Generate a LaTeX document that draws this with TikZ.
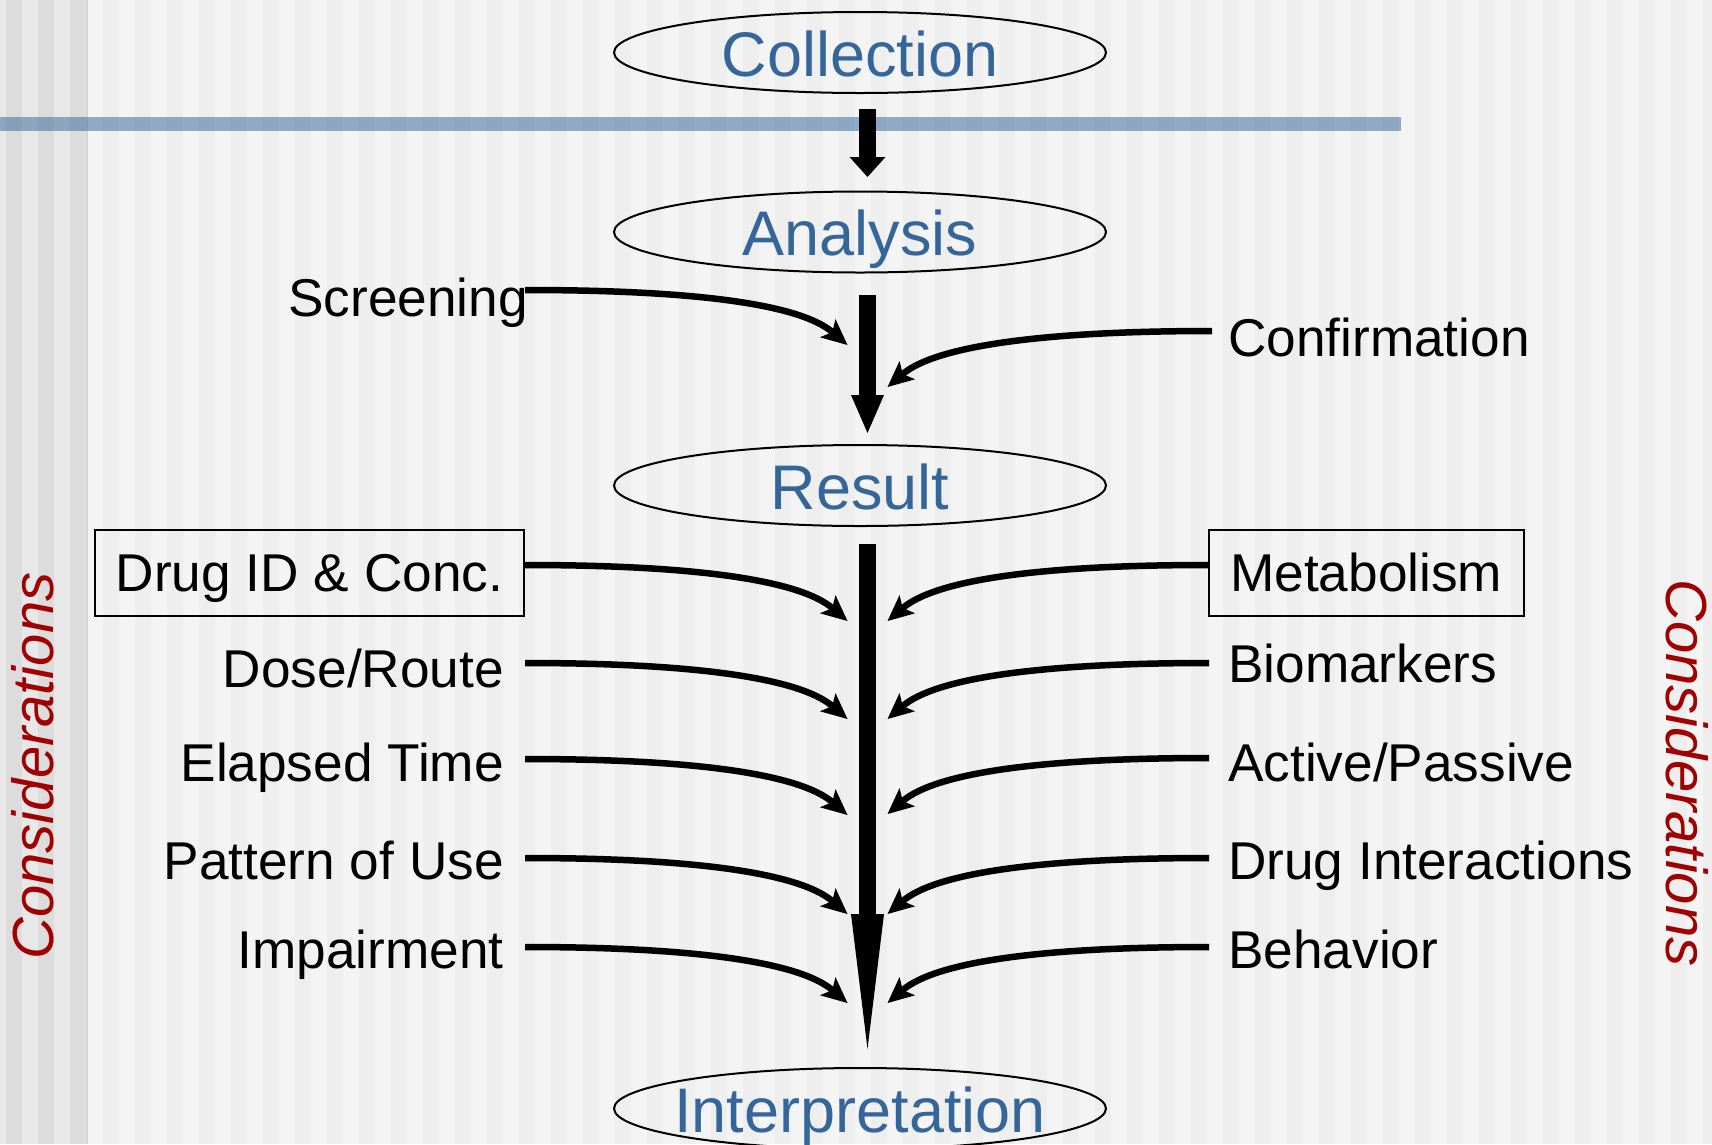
\documentclass[tikz,border=0pt]{standalone}
\usepackage{fontspec}
\setmainfont{Liberation Sans}
\usetikzlibrary{shapes.geometric,arrows.meta,calc}
\definecolor{bgA}{HTML}{F4F4F4}
\definecolor{bgB}{HTML}{EEEEEE}
\definecolor{lsA}{HTML}{E8E8E8}
\definecolor{lsB}{HTML}{DCDCDC}
\definecolor{headblue}{RGB}{52,102,153}
\definecolor{barblue}{RGB}{63,110,159}
\definecolor{consred}{RGB}{160,0,0}
\begin{document}
\begin{tikzpicture}[x=1pt,y=-1pt,
  stage/.style={ellipse, draw, line width=2pt, minimum width=492pt, minimum height=81pt, inner sep=0pt},
  headlbl/.style={text=headblue, font=\fontsize{63}{70}\selectfont, text height=47pt, text depth=0pt, inner sep=0pt},
  item/.style={font=\fontsize{53.2}{60}\selectfont, inner sep=0pt},
  itembox/.style={item, draw, line width=2pt, minimum height=86pt, text height=36pt, text depth=0pt},
  feed/.style={line width=6.5pt, -{Stealth[length=26pt,width=24pt,inset=6pt,line width=0pt]}},
  flow/.style={line width=17pt},
  cons/.style={font=\fontsize{58}{64}\selectfont\itshape, text=consred, inner sep=0pt}
]
\useasboundingbox (0,0) rectangle (1712,1144);
\clip (0,0) rectangle (1712,1144);
% background stripes
\fill[bgB] (87,0) rectangle (1712,1144);
\foreach \k in {0,...,50} \fill[bgA] ({87+32*\k},0) rectangle ({103+32*\k},1144);
\fill[lsA] (0,0) rectangle (87,1144);
\foreach \a/\b in {6/22,38/54,70/87} \fill[lsB] (\a,0) rectangle (\b,1144);
\draw[black!18, line width=1pt] (87,0) -- (87,1144);
% blue bar
\fill[barblue, opacity=0.55] (0,117) rectangle (1401,131);

% stages
\node[stage, label={[headlbl]center:Collection}] (coll) at (860,52.5) {};
\node[stage, label={[headlbl]center:Analysis}] (ana) at (860,232) {};
\node[stage, label={[headlbl]center:Result}] (res) at (860,485.5) {};
\node[stage, label={[headlbl]center:Interpretation}] (interp) at (860,1108.5) {};

% main flow arrows
\draw[flow, -{Triangle[length=20pt,width=36pt,line width=0pt]}]
  ([xshift=7.5pt,yshift=-15pt]coll.south) -- ([xshift=7.5pt,yshift=13.5pt]ana.north);
\draw[flow, -{Triangle[length=38pt,width=33pt,line width=0pt]}]
  ([xshift=7.5pt,yshift=-21.5pt]ana.south) -- ([xshift=7.5pt,yshift=11pt]res.north);
\draw[flow, -{Triangle[length=135pt,width=33pt,line width=0pt]}]
  ([xshift=7.5pt,yshift=-17pt]res.south) -- ([xshift=7.5pt,yshift=18pt]interp.north);

% left items
\node[item, anchor=base east] (scr) at (528,316) {Screening};
\node[itembox, minimum width=429pt] (drug) at (309.5,573) {Drug ID \& Conc.};
\node[item, anchor=base east] (dose) at (504,687) {Dose/Route};
\node[item, anchor=base east] (elap) at (504,781) {Elapsed Time};
\node[item, anchor=base east] (patt) at (504,879) {Pattern of Use};
\node[item, anchor=base east] (imp) at (504,968) {Impairment};

% right items
\node[item, anchor=base west] (conf) at (1228,356) {Confirmation};
\node[itembox, minimum width=314.5pt] (met) at (1366.25,573) {Metabolism};
\node[item, anchor=base west] (bio) at (1228,682) {Biomarkers};
\node[item, anchor=base west] (act) at (1228,781) {Active/Passive};
\node[item, anchor=base west] (dint) at (1228,879) {Drug Interactions};
\node[item, anchor=base west] (beh) at (1228,968) {Behavior};

% considerations
\node[cons, rotate=90, anchor=base] (consL) at (53.5,766) {Considerations};
\node[cons, rotate=-90, anchor=base] (consR) at (1666,773) {Considerations};

% tip coordinates
\coordinate (tS) at (847.5,345);
\coordinate (tC) at (887.5,387);
\coordinate (tL1) at (847.5,621);
\coordinate (tL2) at (847.5,719);
\coordinate (tL3) at (847.5,815);
\coordinate (tL4) at (847.5,914);
\coordinate (tL5) at (847.5,1003);
\coordinate (tR1) at (887.5,621);
\coordinate (tR2) at (887.5,719);
\coordinate (tR3) at (887.5,814);
\coordinate (tR4) at (887.5,914);
\coordinate (tR5) at (887.5,1003);

% feeding arrows, left
\draw[feed] ([xshift=-3pt,yshift=26pt]scr.base east) .. controls +(175,0) and +(-47,-40) .. (tS);
\draw[feed] ([yshift=8pt]drug.east) .. controls +(175,0) and +(-47,-40) .. (tL1);
\draw[feed] ([xshift=21pt,yshift=24pt]dose.base east) .. controls +(175,0) and +(-47,-40) .. (tL2);
\draw[feed] ([xshift=21pt,yshift=22pt]elap.base east) .. controls +(175,0) and +(-47,-40) .. (tL3);
\draw[feed] ([xshift=21pt,yshift=21pt]patt.base east) .. controls +(175,0) and +(-47,-40) .. (tL4);
\draw[feed] ([xshift=21pt,yshift=21pt]imp.base east) .. controls +(175,0) and +(-47,-40) .. (tL5);

% feeding arrows, right
\draw[feed] ([xshift=-16pt,yshift=25pt]conf.base west) .. controls +(-175,0) and +(47,-40) .. (tC);
\draw[feed] ([yshift=8pt]met.west) .. controls +(-175,0) and +(47,-40) .. (tR1);
\draw[feed] ([xshift=-19pt,yshift=19pt]bio.base west) .. controls +(-175,0) and +(47,-40) .. (tR2);
\draw[feed] ([xshift=-19pt,yshift=23pt]act.base west) .. controls +(-175,0) and +(47,-40) .. (tR3);
\draw[feed] ([xshift=-19pt,yshift=21pt]dint.base west) .. controls +(-175,0) and +(47,-40) .. (tR4);
\draw[feed] ([xshift=-19pt,yshift=21pt]beh.base west) .. controls +(-175,0) and +(47,-40) .. (tR5);
\end{tikzpicture}
\end{document}
